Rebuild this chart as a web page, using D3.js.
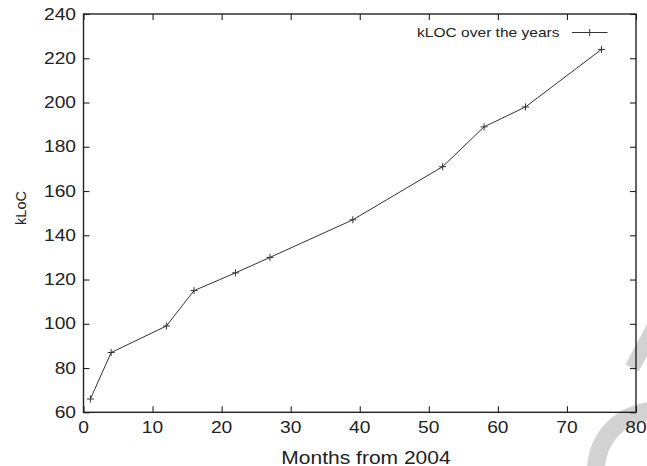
<!DOCTYPE html>
<html>
<head>
<meta charset="utf-8">
<script src="https://cdn.jsdelivr.net/npm/d3@7"></script>
<style>
  body { margin: 0; background: #fff; }
  svg { display: block; }
  text { font-family: "Liberation Sans", Arial, sans-serif; fill: #222; }
</style>
</head>
<body>
<div id="chart"></div>
<script>
// kLOC per month since 2004
let months = [1, 4, 12, 16, 22, 27, 39, 52, 58, 64, 75]
let kloc = [66, 87, 99, 115, 123, 130, 147, 171, 189, 198, 224]
let xTicks = [0, 10, 20, 30, 40, 50, 60, 70, 80]
let yTicks = [60, 80, 100, 120, 140, 160, 180, 200, 220, 240]
let seriesName = "kLOC over the years"
let xTitle = "Months from 2004"
let yTitle = "kLoC"

let width = 647
let height = 466
let margin = {top: 14, right: 11, bottom: 53.7, left: 83.5}
let innerWidth = width - margin.left - margin.right
let innerHeight = height - margin.top - margin.bottom

// glyphs in the picture are wider than their height suggests
function widen(sel, k) {
  sel.each(function () {
    let w = this.getComputedTextLength()
    d3.select(this).attr("textLength", w * k).attr("lengthAdjust", "spacingAndGlyphs")
  })
}

let svg = d3.select("#chart").append("svg")
            .attr("width", width)
            .attr("height", height)

// faint watermark in the corner
let wm = svg.append("g").attr("fill", "none").attr("stroke", "#d2d2d2")
wm.append("path")
  .attr("transform", "translate(655,470)")
  .attr("fill", "#d2d2d2").attr("stroke", "none")
  .attr("d", d3.arc().innerRadius(50).outerRadius(68).startAngle(-Math.PI).endAngle(0)())
wm.append("line")
  .attr("x1", 632).attr("y1", 368).attr("x2", 660).attr("y2", 316)
  .attr("stroke-width", 15)

let g = svg.append("g").attr("transform", `translate(${margin.left},${margin.top})`)

let xScale = d3.scaleLinear().domain([0, 80]).range([0, innerWidth])
let yScale = d3.scaleLinear().domain([60, 240]).range([innerHeight, 0])

// inward ticks on all four sides, like gnuplot
let tick = 6
let xAxisB = g.append("g").attr("transform", `translate(0,${innerHeight})`)
              .call(d3.axisBottom(xScale).tickValues(xTicks).tickSizeInner(-tick).tickSizeOuter(0).tickFormat(""))
let xAxisT = g.append("g")
              .call(d3.axisTop(xScale).tickValues(xTicks).tickSizeInner(-tick).tickSizeOuter(0).tickFormat(""))
let yAxisL = g.append("g")
              .call(d3.axisLeft(yScale).tickValues(yTicks).tickSizeInner(-tick).tickSizeOuter(0).tickFormat(""))
let yAxisR = g.append("g").attr("transform", `translate(${innerWidth},0)`)
              .call(d3.axisRight(yScale).tickValues(yTicks).tickSizeInner(-tick).tickSizeOuter(0).tickFormat(""))

g.selectAll(".domain").remove()
g.selectAll(".tick line").attr("stroke", "#222").attr("stroke-width", 1.1)

g.append("rect")
  .attr("width", innerWidth)
  .attr("height", innerHeight)
  .attr("fill", "none")
  .attr("stroke", "#222")
  .attr("stroke-width", 1.4)

// tick labels
g.selectAll(".xlab").data(xTicks).join("text")
  .attr("class", "xlab")
  .attr("text-anchor", "middle")
  .attr("font-size", 16)
  .attr("x", d => xScale(d))
  .attr("y", innerHeight + 21)
  .text(d => d)
  .call(widen, 1.2)

g.selectAll(".ylab").data(yTicks).join("text")
  .attr("class", "ylab")
  .attr("text-anchor", "end")
  .attr("font-size", 16)
  .attr("dy", "0.35em")
  .attr("x", -7.5)
  .attr("y", d => yScale(d))
  .text(d => d)
  .call(widen, 1.2)

// axis titles
svg.append("text")
  .attr("text-anchor", "middle")
  .attr("font-size", 17.5)
  .attr("x", 366)
  .attr("y", 463.5)
  .text(xTitle)
  .call(widen, 1.2)

svg.append("text")
  .attr("text-anchor", "middle")
  .attr("font-size", 14.5)
  .attr("transform", "translate(26,208) rotate(-90)")
  .text(yTitle)

// series
let pts = months.map((m, i) => [m, kloc[i]])
let line = d3.line().x(d => xScale(d[0])).y(d => yScale(d[1]))

g.append("path")
  .datum(pts)
  .attr("d", line)
  .attr("fill", "none")
  .attr("stroke", "#333")
  .attr("stroke-width", 1)

let plus = "M-3.5,0H3.5M0,-3.5V3.5"
g.selectAll(".pt").data(pts).join("path")
  .attr("class", "pt")
  .attr("d", plus)
  .attr("transform", d => `translate(${xScale(d[0])},${yScale(d[1])})`)
  .attr("stroke", "#333")
  .attr("stroke-width", 1)

// legend
let legend = svg.append("g")
legend.append("text")
  .attr("text-anchor", "end")
  .attr("font-size", 13.5)
  .attr("x", 559.5)
  .attr("y", 36.5)
  .text(seriesName)
  .call(widen, 1.15)
legend.append("line")
  .attr("x1", 572).attr("x2", 607.5).attr("y1", 32.5).attr("y2", 32.5)
  .attr("stroke", "#333")
legend.append("path")
  .attr("d", plus)
  .attr("transform", "translate(589.7,32.5)")
  .attr("stroke", "#333")
</script>
</body>
</html>
